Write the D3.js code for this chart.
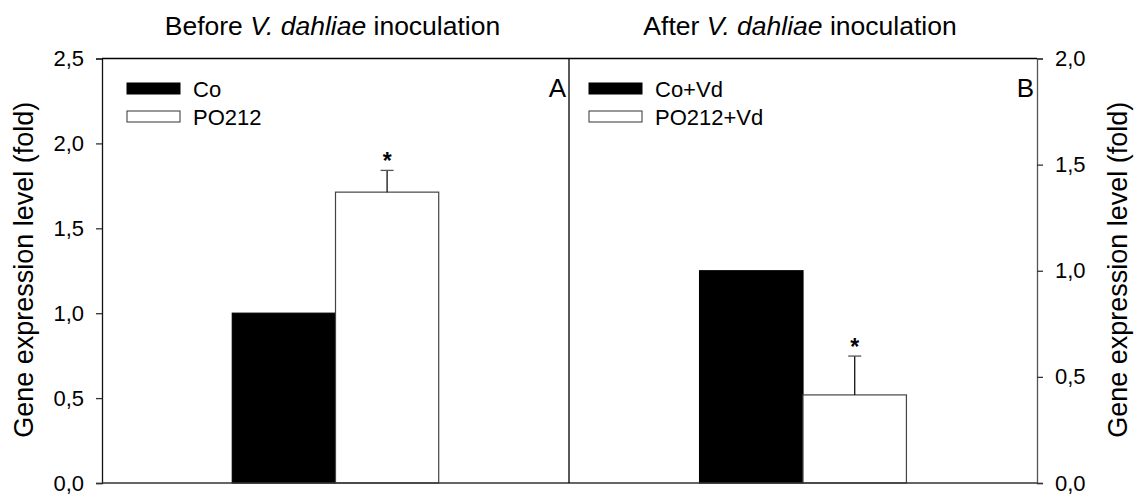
<!DOCTYPE html>
<html>
<head>
<meta charset="utf-8">
<script src="https://cdn.jsdelivr.net/npm/d3@7"></script>
<style>
  html, body { margin: 0; padding: 0; background: #fff; }
  svg { display: block; font-family: "Liberation Sans", Arial, sans-serif; }
</style>
</head>
<body>
<svg id="chart" width="1137" height="496"></svg>
<script>
// Panel A: before inoculation
const groupsA = ["Co", "PO212"];
const valuesA = [1.0, 1.713];
const errorsA = [0, 0.128];
const signifA = [false, true];
const ticksA = [0, 0.5, 1.0, 1.5, 2.0, 2.5];

// Panel B: after inoculation
const groupsB = ["Co+Vd", "PO212+Vd"];
const valuesB = [1.0, 0.415];
const errorsB = [0, 0.183];
const signifB = [false, true];
const ticksB = [0, 0.5, 1.0, 1.5, 2.0];

const fills = ["#000000", "#ffffff"];
const yLabel = "Gene expression level (fold)";

(function () {
const svg = d3.select("#chart");
const plotTop = 58.5, plotBottom = 483;
const leftX = 102, midX = 569, rightX = 1037;
const axisColor = "#333";
const fmt = v => d3.format(".1f")(v).replace(".", ",");

function panel(opts) {
  const { x0, x1, groups, values, errors, signif, ticks, yMax, title, letter, side, legendX } = opts;
  const g = svg.append("g");
  const y = d3.scaleLinear().domain([0, yMax]).range([plotBottom, plotTop]);
  const cx = (x0 + x1) / 2;
  const bw = (x1 - x0) * 0.221;
  const x = d3.scaleBand().domain(groups).range([cx - bw, cx + bw]).padding(0);

  // bars
  g.selectAll("rect.bar").data(groups).join("rect")
    .attr("class", "bar")
    .attr("x", d => x(d))
    .attr("y", (d, i) => y(values[i]))
    .attr("width", x.bandwidth())
    .attr("height", (d, i) => y(0) - y(values[i]))
    .attr("fill", (d, i) => fills[i])
    .attr("stroke", (d, i) => i === 0 ? "#000" : "#444")
    .attr("stroke-width", 1.2);

  // error bars (upper only)
  groups.forEach((d, i) => {
    if (!errors[i]) return;
    const bx = x(d) + x.bandwidth() / 2;
    const yTop = y(values[i] + errors[i]);
    g.append("line").attr("x1", bx).attr("x2", bx)
      .attr("y1", y(values[i])).attr("y2", yTop)
      .attr("stroke", "#111").attr("stroke-width", 1.3);
    g.append("line").attr("x1", bx - 6.5).attr("x2", bx + 6.5)
      .attr("y1", yTop).attr("y2", yTop)
      .attr("stroke", "#555").attr("stroke-width", 1.3);
    if (signif[i]) {
      g.append("text").attr("x", bx).attr("y", yTop - 1)
        .attr("text-anchor", "middle")
        .attr("font-size", 23).attr("font-weight", "bold")
        .text("*");
    }
  });

  // y axis
  const axis = (side === "left" ? d3.axisLeft(y) : d3.axisRight(y))
    .tickValues(ticks).tickFormat(fmt).tickSize(6).tickPadding(12);
  const ax = g.append("g")
    .attr("transform", `translate(${side === "left" ? x0 : x1},0)`)
    .call(axis);
  ax.select(".domain").attr("stroke", side === "left" ? "#111" : "#555").attr("stroke-width", 1.3);
  ax.selectAll(".tick line").attr("stroke", axisColor).attr("stroke-width", 1.3);
  ax.selectAll(".tick text").attr("font-size", 22).attr("fill", "#000")
    .attr("font-family", "Liberation Sans, Arial, sans-serif");

  // axis title (baseline on the right of the rotated text)
  const lx = side === "left" ? 33 : 1127;
  g.append("text")
    .attr("transform", `translate(${lx},${(plotTop + plotBottom) / 2 - 1}) rotate(-90)`)
    .attr("text-anchor", "middle")
    .attr("font-size", 27).text(yLabel);

  // panel title
  const t = g.append("text").attr("x", cx - 3).attr("y", 35)
    .attr("text-anchor", "middle").attr("font-size", 26.5);
  t.append("tspan").text(title[0]);
  t.append("tspan").attr("font-style", "italic").text(title[1]);
  t.append("tspan").text(title[2]);

  // panel letter
  g.append("text").attr("x", x1 - 3).attr("y", 97)
    .attr("text-anchor", "end").attr("font-size", 26).text(letter);

  // legend
  const lg = g.append("g").attr("transform", `translate(${x0 + legendX},0)`);
  groups.forEach((d, i) => {
    const cy = 88.5 + i * 28;
    lg.append("rect").attr("x", 0).attr("y", cy - 5.5)
      .attr("width", 53).attr("height", 11)
      .attr("fill", fills[i]).attr("stroke", i === 0 ? "#000" : "#333").attr("stroke-width", 1);
    lg.append("text").attr("x", 66).attr("y", cy + 8)
      .attr("font-size", 22).text(d);
  });
}

panel({ x0: leftX, x1: midX, groups: groupsA, values: valuesA, errors: errorsA, signif: signifA,
  ticks: ticksA, yMax: 2.5, title: ["Before ", "V. dahliae", " inoculation"], letter: "A",
  side: "left", legendX: 25 });
panel({ x0: midX, x1: rightX, groups: groupsB, values: valuesB, errors: errorsB, signif: signifB,
  ticks: ticksB, yMax: 2.0, title: ["After ", "V. dahliae", " inoculation"], letter: "B",
  side: "right", legendX: 20 });

// frame: top, bottom and panel divider
svg.append("line").attr("x1", leftX).attr("x2", rightX).attr("y1", plotTop).attr("y2", plotTop)
  .attr("stroke", "#000").attr("stroke-width", 1.3);
svg.append("line").attr("x1", leftX).attr("x2", rightX).attr("y1", plotBottom).attr("y2", plotBottom)
  .attr("stroke", axisColor).attr("stroke-width", 1.3);
svg.append("line").attr("x1", midX).attr("x2", midX).attr("y1", plotTop).attr("y2", plotBottom)
  .attr("stroke", "#000").attr("stroke-width", 1.3);
})();
</script>
</body>
</html>
